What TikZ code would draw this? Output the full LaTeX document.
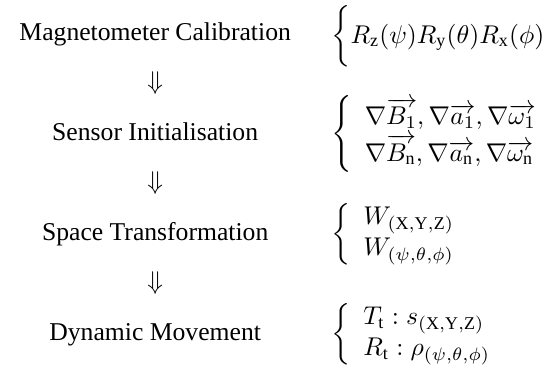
\documentclass[tikz,border=0pt]{standalone}
\usepackage{amsmath}
\usepackage{fontspec}
\setmainfont{Liberation Serif}
\usepackage{tikz}
\usetikzlibrary{positioning,calc}

\begin{document}
\begin{tikzpicture}[
        stage/.style={inner sep=0pt, text height=1.6ex, text depth=.4ex},
        eqn/.style={inner sep=0pt, anchor=base west},
        flow/.style={inner sep=0pt}
      ]
        \useasboundingbox (0,0) rectangle (216pt,-145pt);
        \coordinate (col) at (129pt,0);
        \node[stage, anchor=base] (magcal) at (60.5pt,-15.8pt) {Magnetometer Calibration};
        \node[stage, below=39pt of magcal.base, anchor=base] (sensinit) {Sensor Initialisation};
        \node[stage, below=39pt of sensinit.base, anchor=base] (spacetrans) {Space Transformation};
        \node[stage, below=39pt of spacetrans.base, anchor=base] (dynmove) {Dynamic Movement};
        \node[flow] (step1) at ($(magcal)!0.5!(sensinit)$) {$\Downarrow$};
        \node[flow] (step2) at ($(sensinit)!0.5!(spacetrans)$) {$\Downarrow$};
        \node[flow] (step3) at ($(spacetrans)!0.5!(dynmove)$) {$\Downarrow$};
        \node[eqn, yshift=-1pt] (rotation) at (magcal.base -| col)
          {$\bigg\{R_{\mathrm{z}}(\psi)R_{\mathrm{y}}(\theta)R_{\mathrm{x}}(\phi)$};
        \node[eqn] (gradients) at (sensinit.base -| col)
          {$\left\{\begin{array}{l}
            \nabla\overrightarrow{B_{1}},\nabla\overrightarrow{a_{1}},\nabla\overrightarrow{\omega_{1}}\\
            \nabla\overrightarrow{B_{\mathrm{n}}},\nabla\overrightarrow{a_{\mathrm{n}}},\nabla\overrightarrow{\omega_{\mathrm{n}}}
          \end{array}\right.$};
        \node[eqn] (worldframe) at (spacetrans.base -| col)
          {$\left\{\begin{array}{l}
            W_{(\mathrm{X,Y,Z})}\\
            W_{(\psi,\theta,\phi)}
          \end{array}\right.$};
        \node[eqn] (motion) at (dynmove.base -| col)
          {$\left\{\begin{array}{l}
            T_{\mathrm{t}}:s_{(\mathrm{X,Y,Z})}\\
            R_{\mathrm{t}}:\rho_{(\psi,\theta,\phi)}
          \end{array}\right.$};
      \end{tikzpicture}
\end{document}
